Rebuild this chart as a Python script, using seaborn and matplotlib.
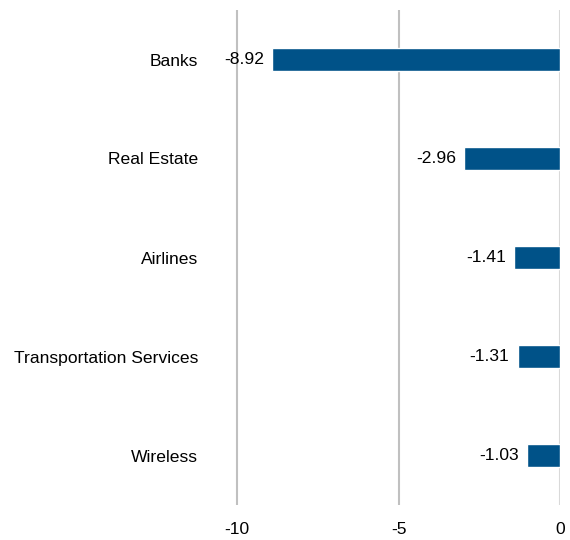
import matplotlib
matplotlib.use("Agg")
import matplotlib.pyplot as plt
import seaborn as sns
import pandas as pd

categories = ["Banks", "Real Estate", "Airlines", "Transportation Services", "Wireless"]
values = [-8.92, -2.96, -1.41, -1.31, -1.03]
value_labels = ["-8.92", "-2.96", "-1.41", "-1.31", "-1.03"]
xticks = [-10, -5, 0]

sns.set_theme(style="white")
plt.rcParams['font.family'] = ['Liberation Sans', 'DejaVu Sans']
FS = 12.6

df = pd.DataFrame({"category": categories, "value": values})

fig = plt.figure(figsize=(5.7, 5.4), dpi=100)
ax = fig.add_axes([205/570, 1 - 505/540, (560 - 205)/570, 495/540])

sns.barplot(data=df, x="value", y="category", orient="h", color="#005288",
            saturation=1, width=0.24, ax=ax, zorder=3)

ax.set_xlim(-11, 0)
ax.set_ylim(4.5, -0.5)
ax.set_xticks(xticks)
ax.set_xticklabels([str(t) for t in xticks])
for t in xticks:
    ax.axvline(t, color="#c0c0c0" if t != 0 else "#d9d9d9", lw=1.5, zorder=1)

ax.bar_label(ax.containers[0], labels=value_labels, padding=6, fontsize=FS,
             color="#000000")

ax.set_xlabel("")
ax.set_ylabel("")
for s in ax.spines.values():
    s.set_visible(False)
ax.tick_params(axis="both", length=0, labelsize=FS, colors="#000000")
ax.tick_params(axis="x", pad=12)
ax.tick_params(axis="y", pad=5)
ax.grid(False)

fig.savefig("out.png", dpi=100)
